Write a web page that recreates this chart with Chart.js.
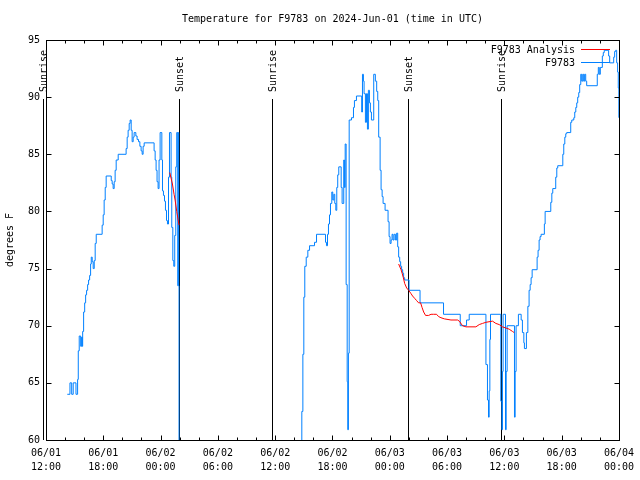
<!DOCTYPE html>
<html>
<head>
<meta charset="utf-8">
<title>Temperature for F9783</title>
<script src="https://cdn.jsdelivr.net/npm/chart.js@4.4.1/dist/chart.umd.min.js"></script>
<style>
body{margin:0;background:#fff;}
</style>
</head>
<body>
<canvas id="graf" width="640" height="480"></canvas>
<script>
// ore dalle 06/01 12:00 UTC
var obsHours=[2.23,2.51,2.69,2.85,3.14,3.31,3.38,3.48,3.63,3.73,3.79,3.84,3.94,4.05,4.15,4.25,4.36,4.46,4.57,4.67,
    4.74,4.84,4.94,5.05,5.15,5.26,5.88,5.99,6.09,6.20,6.30,6.83,6.93,7.03,7.14,7.24,7.35,7.56,8.39,8.50,
    8.60,8.71,8.81,8.92,9.02,9.13,9.23,9.41,9.54,9.69,9.83,9.96,10.07,10.17,10.28,11.32,11.43,11.53,11.63,11.74,
    11.84,11.95,12.13,12.20,12.30,12.41,12.51,12.62,12.72,12.83,12.93,13.10,13.17,13.28,13.38,13.48,13.59,13.69,13.80,13.85,
    13.90,13.93,
    26.79,26.90,27.00,27.10,27.25,27.42,27.60,28.12,28.33,29.27,29.37,29.48,29.58,29.69,29.79,29.93,30.03,30.14,30.24,30.35,
    30.45,30.55,30.66,30.91,31.01,31.18,31.25,31.33,31.43,31.54,31.60,31.67,31.75,31.99,32.20,32.30,32.51,33.06,33.14,33.24,
    33.31,33.45,33.56,33.66,33.76,33.87,33.97,34.08,34.32,34.49,34.63,34.74,34.84,34.99,35.09,35.20,35.30,35.51,35.82,35.93,
    36.03,36.14,36.24,36.34,36.45,36.59,36.72,36.83,36.93,37.04,37.14,37.24,37.35,37.45,37.56,38.02,39.17,41.63,43.38,44.04,
    44.32,46.07,46.23,46.34,46.41,46.48,46.55,47.63,47.74,47.80,47.87,48.12,48.19,48.29,49.06,49.13,49.23,49.47,49.76,49.89,
    50.04,50.10,50.31,50.46,50.59,50.70,50.80,50.91,51.43,51.53,51.64,51.74,51.85,52.19,52.27,52.86,52.97,53.07,53.38,53.49,
    53.59,54.12,54.22,54.33,54.43,54.53,54.95,55.06,55.27,55.37,55.48,55.58,55.68,55.79,55.89,56.00,56.10,56.21,56.31,56.41,
    56.52,56.62,57.73,57.84,57.94,58.05,58.26,58.36,58.46,58.92,59.03,59.45,59.55,59.66,59.76,59.86,59.93,59.99];
var obsTemp=[64.0,65,64,65,64,65.3,67.8,69.1,68.2,69.0,68.2,69.5,71.2,72.0,72.7,73.1,73.6,74.0,74.4,75.4,
    76.0,75.6,75.0,75.7,77.2,78.0,78.8,79.7,81.0,82.1,83.1,82.7,82.4,82.0,82.6,83.6,84.5,85.0,85.5,86.5,
    87.1,87.7,88.0,87.1,86.1,86.5,86.9,86.6,86.3,86.1,85.7,85.3,85.0,85.7,86.0,85.3,84.5,83.6,82.6,82.0,
    84.5,86.9,84.5,81.8,81.4,80.9,80.1,79.2,78.9,83.0,86.9,83.0,78.6,75.7,75.2,77.9,83.9,86.9,73.5,86.9,
    73.5,40,
    62.5,67.5,72.5,75.2,76.0,76.6,77.0,77.3,78.0,77.3,77.0,78.0,78.9,79.7,80.7,81.7,81.0,81.5,80.7,80.1,
    82.1,83.2,83.9,82.1,80.7,84.5,82.1,85.9,73.6,65.1,60.9,67.6,88.0,88.2,89.1,89.7,90.1,88.7,92.0,91.4,
    90.3,87.8,90.3,87.2,90.6,89.5,88.7,88.0,92.0,91.4,90.5,89.7,86.5,83.6,81.9,81.3,80.7,80.1,79.1,77.8,
    77.2,77.5,78.0,77.5,78.0,77.5,78.1,76.9,76.0,75.6,75.2,74.9,74.6,74.2,74.0,73.1,72.0,71.0,70.0,70.5,
    71.0,66.6,63.5,62.0,64.3,68.8,71.0,63.4,60.9,66.0,71.0,60.9,66.0,70.0,62.0,66.0,70.0,71.0,70.5,69.4,
    68.5,68.0,69.4,71.7,73.1,73.6,74.2,74.9,76.0,76.6,77.5,77.8,78.0,78.9,80.0,80.8,81.6,82.0,83.0,83.8,
    84.0,85.0,85.9,86.5,86.8,86.9,87.8,88.0,88.2,88.7,89.1,89.5,90.0,90.4,91.1,92.0,91.4,92.0,91.4,92.0,
    91.4,91.0,92.0,92.6,92.0,92.6,93.6,93.9,94.1,93.6,93.0,93.5,94.0,94.1,93.0,92.2,90.8,88.2];

var anaHours=[12.96,13.24,13.41,13.52,13.69,13.93,25,
    36.93,37.18,37.29,37.42,37.56,37.77,37.98,38.23,38.39,38.60,38.81,39.02,39.23,39.38,39.55,39.75,40.07,40.32,40.59,40.90,
    41.11,41.36,41.71,42.41,43.10,43.28,43.62,43.98,45.02,45.37,45.71,46.07,46.76,47.11,47.46,47.80,48.16,48.50,48.85,49.03];
var anaTemp=[83.4,82.4,81.5,81.0,80.0,78.8,null,
    75.4,74.9,74.6,74.2,73.7,73.3,73.1,72.8,72.6,72.4,72.2,72.0,72.0,71.6,71.2,70.9,70.9,71.0,71.0,71.0,
    70.8,70.7,70.6,70.5,70.5,70.4,70.0,69.9,69.9,70.1,70.2,70.3,70.4,70.2,70.1,69.9,69.8,69.7,69.5,69.4];

var sunriseHours=[-0.3,23.7,47.7];
var sunsetHours=[13.93,37.93];
var sunLineTop=89.8;

var titolo="Temperature for F9783 on 2024-Jun-01 (time in UTC)";
var font="10px 'DejaVu Sans Mono', monospace";

function punti(ore,valori){
    var out=[];
    for(var i=0;i<ore.length;i++)
        out.push({x:ore[i],y:valori[i]});
    return out;
}

function etichettaOra(h){
    var tot=12+h;
    var giorno=1+Math.floor(tot/24);
    var ora=tot%24;
    return ["06/0"+giorno,(ora<10?"0":"")+ora+":00"];
}

function lineaSole(ctx,sx,sy,t,testo){
    var x=Math.round(sx.getPixelForValue(t))+0.5;
    var top=Math.round(sy.getPixelForValue(sunLineTop));
    var bot=sy.getPixelForValue(60);
    ctx.beginPath();
    ctx.moveTo(x,top);
    ctx.lineTo(x,bot);
    ctx.stroke();
    ctx.save();
    ctx.translate(x+1,top-7);
    ctx.rotate(-Math.PI/2);
    ctx.textAlign="left";
    ctx.textBaseline="middle";
    ctx.fillText(testo,0,0);
    ctx.restore();
}

var sfondo={
    id:"sfondo",
    beforeDatasetsDraw:function(chart){
        var ctx=chart.ctx, sx=chart.scales.x, sy=chart.scales.y;
        ctx.save();
        ctx.strokeStyle="#000";
        ctx.fillStyle="#000";
        ctx.lineWidth=1;
        ctx.font=font;
        for(var i=0;i<sunriseHours.length;i++) lineaSole(ctx,sx,sy,sunriseHours[i],"Sunrise");
        for(var j=0;j<sunsetHours.length;j++) lineaSole(ctx,sx,sy,sunsetHours[j],"Sunset");
        ctx.restore();
    }
};

var cornice={
    id:"cornice",
    afterDraw:function(chart){
        var ctx=chart.ctx, a=chart.chartArea, sx=chart.scales.x, sy=chart.scales.y;
        var L=Math.round(a.left)+0.5, R=Math.round(a.right)+0.5, T=Math.round(a.top)+0.5, B=Math.round(a.bottom)+0.5;
        ctx.save();
        ctx.strokeStyle="#000";
        ctx.fillStyle="#000";
        ctx.lineWidth=1;
        ctx.strokeRect(L,T,R-L,B-T);
        ctx.beginPath();
        for(var h=0;h<=60;h+=2){
            var x=Math.round(sx.getPixelForValue(h))+0.5;
            var len=(h%6==0)?5:3;
            ctx.moveTo(x,B); ctx.lineTo(x,B-len);
            ctx.moveTo(x,T); ctx.lineTo(x,T+len);
        }
        for(var v=60;v<=95;v+=5){
            var y=Math.round(sy.getPixelForValue(v))+0.5;
            ctx.moveTo(L,y); ctx.lineTo(L+5,y);
            ctx.moveTo(R,y); ctx.lineTo(R-5,y);
        }
        ctx.stroke();

        ctx.font=font;
        ctx.textAlign="center";
        ctx.textBaseline="middle";
        ctx.fillText(titolo,(a.left+a.right)/2,19);

        ctx.save();
        ctx.translate(10,(a.top+a.bottom)/2);
        ctx.rotate(-Math.PI/2);
        ctx.fillText("degrees F",0,0);
        ctx.restore();

        // legenda
        var ds=chart.data.datasets;
        var righe=[ds[0],ds[1]];
        ctx.textAlign="right";
        for(var k=0;k<righe.length;k++){
            var yy=50+k*13;
            ctx.fillStyle="#000";
            ctx.fillText(righe[k].label,575,yy);
            ctx.strokeStyle=righe[k].borderColor;
            ctx.beginPath();
            ctx.moveTo(581,Math.round(yy)-0.5);
            ctx.lineTo(610,Math.round(yy)-0.5);
            ctx.stroke();
        }
        ctx.restore();
    }
};

Chart.defaults.font.family="'DejaVu Sans Mono', monospace";
Chart.defaults.font.size=10;
Chart.defaults.color="#000";

var grafico=new Chart("graf",{
    type:"line",
    data:{
        datasets:[{
            label:"F9783 Analysis",
            data:punti(anaHours,anaTemp),
            borderColor:"#ff0000",
            borderWidth:1,
            pointRadius:0,
            fill:false,
            spanGaps:false
        },{
            label:"F9783",
            data:punti(obsHours,obsTemp),
            borderColor:"#0080ff",
            borderWidth:1,
            pointRadius:0,
            fill:false,
            stepped:true
        }]
    },
    options:{
        responsive:false,
        animation:false,
        layout:{padding:{top:40,right:20,left:0,bottom:0}},
        plugins:{legend:{display:false},tooltip:{enabled:false},title:{display:false}},
        scales:{
            x:{
                type:"linear",
                min:0,
                max:60,
                grid:{display:false,drawTicks:false},
                border:{display:false},
                ticks:{
                    stepSize:6,
                    autoSkip:false,
                    maxRotation:0,
                    padding:6,
                    font:{lineHeight:1.4},
                    callback:function(v){return etichettaOra(v);}
                },
                afterFit:function(s){s.height=40;}
            },
            y:{
                min:60,
                max:95,
                grid:{display:false,drawTicks:false},
                border:{display:false},
                ticks:{stepSize:5,padding:6},
                afterFit:function(s){s.width=46;}
            }
        }
    },
    plugins:[sfondo,cornice]
});
</script>
</body>
</html>
